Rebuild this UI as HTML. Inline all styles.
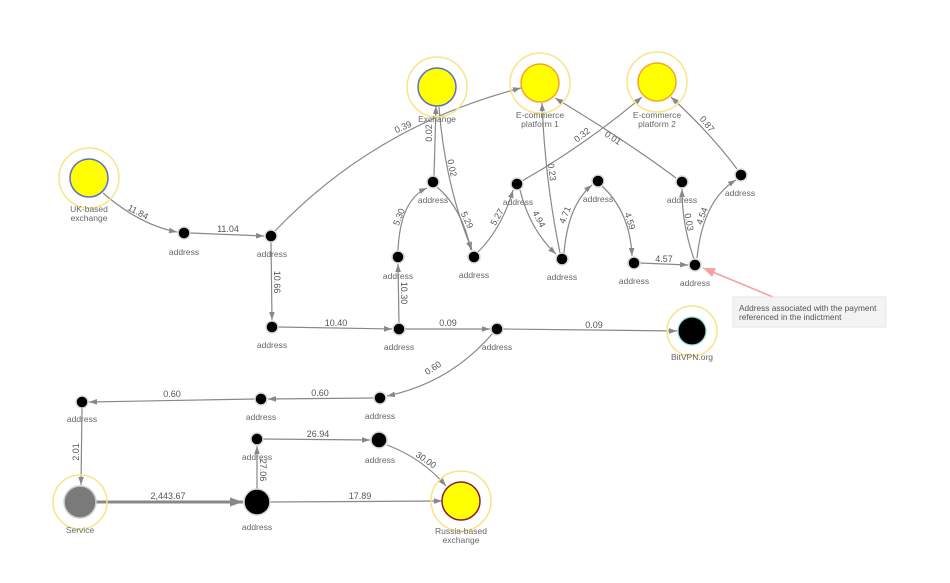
<!DOCTYPE html>
<html><head><meta charset="utf-8"><style>
html,body{margin:0;padding:0;background:#fff;}
svg{display:block;}
.e{fill:none;stroke:#888;stroke-width:1.2;}
.el{font-family:"Liberation Sans",sans-serif;font-size:9px;fill:#555;text-anchor:middle;dominant-baseline:central;}
.nl{font-family:"Liberation Sans",sans-serif;font-size:8.5px;fill:#666;text-anchor:middle;dominant-baseline:central;}
.n{fill:#000;stroke:#d8d8d8;stroke-width:1.5;}
.ring{fill:none;stroke:#f7e58a;stroke-width:1.5;}
</style></head><body>
<svg width="950" height="583" viewBox="0 0 950 583" xmlns="http://www.w3.org/2000/svg">
<defs>
<marker id="ar" viewBox="0 0 10 10" refX="10" refY="5" markerWidth="8" markerHeight="8" orient="auto" markerUnits="userSpaceOnUse"><path d="M0,1.5 L10,5 L0,8.5 z" fill="#888"/></marker>
<marker id="arb" viewBox="0 0 10 10" refX="10" refY="5" markerWidth="13" markerHeight="13" orient="auto" markerUnits="userSpaceOnUse"><path d="M0,1.5 L10,5 L0,8.5 z" fill="#888"/></marker>
<marker id="arr" viewBox="0 0 10 10" refX="10" refY="5" markerWidth="12" markerHeight="12" orient="auto" markerUnits="userSpaceOnUse"><path d="M0,1 L10,5 L0,9 z" fill="#f2a0a0"/></marker>
</defs>

<!-- edges -->
<path class="e" d="M103,193 Q140,225 177,232" marker-end="url(#ar)"/>
<path class="e" d="M190,233 L264,236" marker-end="url(#ar)"/>
<path class="e" d="M275,231 Q375,126 521,88" marker-end="url(#ar)"/>
<path class="e" d="M271,242 L272,320" marker-end="url(#ar)"/>
<path class="e" d="M278,327 L392,329" marker-end="url(#ar)"/>
<path class="e" d="M399,323 L398,264" marker-end="url(#ar)"/>
<path class="e" d="M405,329 L490,329" marker-end="url(#ar)"/>
<path class="e" d="M503,329 L677,331" marker-end="url(#ar)"/>
<path class="e" d="M493,333 Q450,383 387,396" marker-end="url(#ar)"/>
<path class="e" d="M374,398 L268,399" marker-end="url(#ar)"/>
<path class="e" d="M255,399 L89,402" marker-end="url(#ar)"/>
<path class="e" d="M82,408 L81,485" marker-end="url(#ar)"/>
<path class="e" d="M96,502 L243,502" style="stroke-width:3" marker-end="url(#arb)"/>
<path class="e" d="M257,489 L257,446" marker-end="url(#ar)"/>
<path class="e" d="M263,439 L370,440" marker-end="url(#ar)"/>
<path class="e" d="M387,445 Q422,458 446,486" marker-end="url(#ar)"/>
<path class="e" d="M270,502 L442,501" marker-end="url(#ar)"/>
<path class="e" d="M398,251 Q400,200 427,188" marker-end="url(#ar)"/>
<path class="e" d="M434,176 L436,106" marker-end="url(#ar)"/>
<path class="e" d="M439,107 Q445,185 472,250" marker-end="url(#ar)"/>
<path class="e" d="M437,187 Q462,208 471,250" marker-end="url(#ar)"/>
<path class="e" d="M478,252 Q502,228 513,190" marker-end="url(#ar)"/>
<path class="e" d="M522,181 Q585,145 642,97" marker-end="url(#ar)"/>
<path class="e" d="M520,190 Q530,230 556,254" marker-end="url(#ar)"/>
<path class="e" d="M560,253 Q545,180 542,103" marker-end="url(#ar)"/>
<path class="e" d="M564,253 Q568,205 592,185" marker-end="url(#ar)"/>
<path class="e" d="M602,186 Q630,212 632,256" marker-end="url(#ar)"/>
<path class="e" d="M640,263 L688,265" marker-end="url(#ar)"/>
<path class="e" d="M676,178 Q625,140 555,98" marker-end="url(#ar)"/>
<path class="e" d="M694,259 Q682,225 682,189" marker-end="url(#ar)"/>
<path class="e" d="M697,258 Q703,200 736,180" marker-end="url(#ar)"/>
<path class="e" d="M737,169 Q712,135 671,97" marker-end="url(#ar)"/>

<!-- annotation -->
<path d="M773,297 L703,268" fill="none" stroke="#f2a0a0" stroke-width="1.5" marker-end="url(#arr)"/>
<rect x="733" y="297" width="153" height="30" fill="#f3f3f3" stroke="#e6e6e6" stroke-width="1"/>
<text x="739" y="308" style="font-family:'Liberation Sans',sans-serif;font-size:8.3px;fill:#555;dominant-baseline:central;">Address associated with the payment</text>
<text x="739" y="317" style="font-family:'Liberation Sans',sans-serif;font-size:8.3px;fill:#555;dominant-baseline:central;">referenced in the indictment</text>

<!-- edge labels -->
<text class="el" transform="translate(138,212) rotate(28)">11.84</text>
<text class="el" x="228" y="229">11.04</text>
<text class="el" transform="translate(403,127) rotate(-24)">0.39</text>
<text class="el" transform="translate(277,282) rotate(90)">10.66</text>
<text class="el" x="336" y="323">10.40</text>
<text class="el" transform="translate(404,293) rotate(90)">10.30</text>
<text class="el" x="448" y="323">0.09</text>
<text class="el" x="594" y="325">0.09</text>
<text class="el" transform="translate(433,368) rotate(-33)">0.60</text>
<text class="el" x="320" y="393">0.60</text>
<text class="el" x="172" y="394">0.60</text>
<text class="el" transform="translate(76,452) rotate(-90)">2.01</text>
<text class="el" x="168" y="496">2,443.67</text>
<text class="el" transform="translate(263,470) rotate(90)">27.06</text>
<text class="el" x="318" y="434">26.94</text>
<text class="el" transform="translate(426,460) rotate(35)">30.00</text>
<text class="el" x="360" y="496">17.89</text>
<text class="el" transform="translate(399,217) rotate(-68)">5.30</text>
<text class="el" transform="translate(429,133) rotate(-90)">0.02</text>
<text class="el" transform="translate(452,168) rotate(78)">0.02</text>
<text class="el" transform="translate(467,220) rotate(65)">5.29</text>
<text class="el" transform="translate(497,217) rotate(-60)">5.27</text>
<text class="el" transform="translate(582,135) rotate(-38)">0.32</text>
<text class="el" transform="translate(539,219) rotate(62)">4.94</text>
<text class="el" transform="translate(552,172) rotate(82)">0.23</text>
<text class="el" transform="translate(565,215) rotate(-68)">4.71</text>
<text class="el" transform="translate(630,221) rotate(72)">4.59</text>
<text class="el" x="664" y="259">4.57</text>
<text class="el" transform="translate(613,138) rotate(33)">0.01</text>
<text class="el" transform="translate(689,222) rotate(80)">0.03</text>
<text class="el" transform="translate(702,216) rotate(-70)">4.54</text>
<text class="el" transform="translate(707,124) rotate(52)">0.87</text>

<!-- big nodes -->
<circle class="ring" cx="89" cy="178" r="30"/>
<circle cx="89" cy="178" r="19" fill="#ffff00" stroke="#5b6fc9" stroke-width="1.5"/>
<circle class="ring" cx="437" cy="87" r="30"/>
<circle cx="437" cy="87" r="19" fill="#ffff00" stroke="#5b6fc9" stroke-width="1.5"/>
<circle class="ring" cx="540" cy="83" r="30"/>
<circle cx="540" cy="83" r="19" fill="#ffff00" stroke="#f5a623" stroke-width="1.5"/>
<circle class="ring" cx="657" cy="82" r="30"/>
<circle cx="657" cy="82" r="19" fill="#ffff00" stroke="#f5a623" stroke-width="1.5"/>
<circle class="ring" cx="692" cy="331" r="25"/>
<circle cx="692" cy="331" r="14" fill="#000" stroke="#8fdcdc" stroke-width="1.2"/>
<circle class="ring" cx="80" cy="502" r="27"/>
<circle cx="80" cy="502" r="16" fill="#7a7a7a" stroke="#cfcfcf" stroke-width="1.5"/>
<circle class="ring" cx="461" cy="501" r="30"/>
<circle cx="461" cy="501" r="19" fill="#ffff00" stroke="#8a1c3c" stroke-width="1.5"/>

<!-- small nodes -->
<circle class="n" cx="184" cy="233" r="6"/>
<circle class="n" cx="271" cy="236" r="6"/>
<circle class="n" cx="272" cy="327" r="6"/>
<circle class="n" cx="399" cy="329" r="6"/>
<circle class="n" cx="497" cy="329" r="6"/>
<circle class="n" cx="398" cy="257" r="6"/>
<circle class="n" cx="433" cy="182" r="6"/>
<circle class="n" cx="474" cy="257" r="6"/>
<circle class="n" cx="517" cy="184" r="6"/>
<circle class="n" cx="562" cy="259" r="6"/>
<circle class="n" cx="598" cy="181" r="6"/>
<circle class="n" cx="634" cy="263" r="6"/>
<circle class="n" cx="695" cy="265" r="6"/>
<circle class="n" cx="682" cy="182" r="6"/>
<circle class="n" cx="741" cy="175" r="6"/>
<circle class="n" cx="380" cy="398" r="6"/>
<circle class="n" cx="261" cy="399" r="6"/>
<circle class="n" cx="82" cy="402" r="6"/>
<circle class="n" cx="257" cy="439" r="6"/>
<circle class="n" cx="379" cy="440" r="8"/>
<circle class="n" cx="257" cy="502" r="13"/>

<!-- node labels -->
<text class="nl" x="89" y="209">UK-based</text>
<text class="nl" x="89" y="218">exchange</text>
<text class="nl" x="437" y="119">Exchange</text>
<text class="nl" x="540" y="115">E-commerce</text>
<text class="nl" x="540" y="124">platform 1</text>
<text class="nl" x="657" y="115">E-commerce</text>
<text class="nl" x="657" y="124">platform 2</text>
<text class="nl" x="692" y="357">BitVPN.org</text>
<text class="nl" x="80" y="530">Service</text>
<text class="nl" x="461" y="531">Russia-based</text>
<text class="nl" x="461" y="540">exchange</text>
<text class="nl" x="184" y="252">address</text>
<text class="nl" x="272" y="254">address</text>
<text class="nl" x="272" y="345">address</text>
<text class="nl" x="399" y="347">address</text>
<text class="nl" x="497" y="347">address</text>
<text class="nl" x="398" y="276">address</text>
<text class="nl" x="433" y="200">address</text>
<text class="nl" x="474" y="275">address</text>
<text class="nl" x="518" y="202">address</text>
<text class="nl" x="562" y="277">address</text>
<text class="nl" x="598" y="199">address</text>
<text class="nl" x="634" y="281">address</text>
<text class="nl" x="695" y="283">address</text>
<text class="nl" x="682" y="200">address</text>
<text class="nl" x="740" y="193">address</text>
<text class="nl" x="380" y="416">address</text>
<text class="nl" x="261" y="417">address</text>
<text class="nl" x="82" y="419">address</text>
<text class="nl" x="257" y="457">address</text>
<text class="nl" x="380" y="460">address</text>
<text class="nl" x="257" y="527">address</text>
</svg>
</body></html>
